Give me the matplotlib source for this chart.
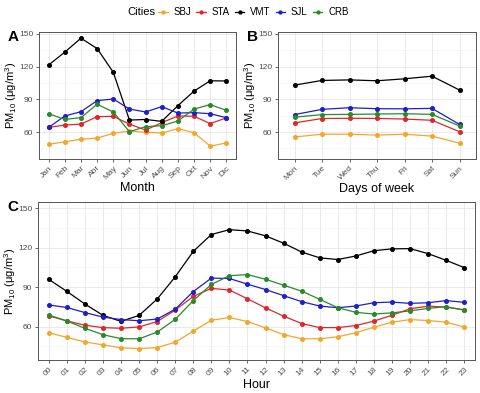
import matplotlib
matplotlib.use("Agg")
import matplotlib.pyplot as plt

plt.rcParams["font.family"] = ["Liberation Sans", "DejaVu Sans"]
plt.rcParams["mathtext.fontset"] = "custom"
plt.rcParams["mathtext.rm"] = "Liberation Sans"
plt.rcParams["mathtext.it"] = "Liberation Sans:italic"

cities = ["SBJ", "STA", "VMT", "SJL", "CRB"]
colors = {"SBJ": "#F2A72C", "STA": "#E0262B", "VMT": "#000000",
          "SJL": "#1E1ECC", "CRB": "#2A8A2A"}

# --- A: monthly means ---
months = ["Jan", "Feb", "Mar", "Abr", "May", "Jun", "Jul", "Aug", "Sep", "Oct", "Nov", "Dic"]
month_vals = {
    "SBJ": [48.7, 51.1, 53.4, 54.5, 58.8, 61.0, 59.8, 59.1, 63.1, 59.4, 47.1, 50.0],
    "STA": [64.3, 66.4, 67.3, 74.1, 74.4, 67.3, 61.8, 68.6, 74.7, 74.5, 67.7, 73.0],
    "VMT": [121.5, 133.3, 146.0, 136.5, 114.8, 71.0, 71.5, 69.8, 84.2, 97.5, 107.0, 106.8],
    "SJL": [64.3, 74.7, 78.7, 88.8, 90.3, 81.1, 78.4, 83.3, 77.4, 77.8, 76.8, 73.2],
    "CRB": [76.8, 71.6, 73.2, 85.5, 78.4, 60.3, 64.9, 65.8, 70.1, 81.0, 85.2, 79.9],
}

# --- B: day of week ---
days = ["Mon", "Tue", "Wed", "Thu", "Fri", "Sat", "Sun"]
day_vals = {
    "SBJ": [55.5, 58.0, 58.0, 57.2, 58.0, 56.3, 49.8],
    "STA": [68.4, 72.4, 72.6, 72.5, 71.9, 70.8, 60.3],
    "VMT": [103.0, 107.3, 107.8, 107.0, 108.8, 111.2, 98.5],
    "SJL": [76.0, 80.8, 82.3, 81.4, 81.3, 81.7, 67.0],
    "CRB": [73.6, 76.0, 76.2, 76.5, 76.8, 76.2, 65.6],
}

# --- C: hour of day ---
hours = [f"{h:02d}" for h in range(24)]
hour_vals = {
    "SBJ": [55.3, 51.8, 48.3, 46.1, 43.8, 43.3, 44.0, 48.1, 56.5, 64.8, 66.9, 63.8,
            59.0, 53.9, 50.7, 50.8, 52.2, 55.3, 59.5, 63.3, 65.3, 64.6, 63.3, 59.7],
    "STA": [68.1, 64.3, 61.0, 59.2, 58.7, 59.7, 63.8, 72.5, 82.9, 89.0, 87.7, 81.1,
            74.2, 67.9, 62.3, 59.2, 59.2, 60.8, 64.1, 68.6, 73.5, 75.5, 74.7, 72.7],
    "VMT": [95.8, 86.7, 77.1, 68.5, 63.9, 68.5, 80.9, 97.8, 117.1, 129.9, 133.6, 132.6,
            128.9, 123.3, 116.6, 112.2, 110.9, 113.6, 117.6, 119.0, 119.2, 115.4, 110.3, 104.8],
    "SJL": [76.4, 74.5, 70.6, 67.2, 65.3, 64.4, 65.7, 73.2, 86.6, 96.8, 96.5, 92.2,
            88.1, 83.5, 78.9, 75.6, 74.3, 75.6, 78.1, 78.6, 77.6, 78.1, 79.7, 78.4],
    "CRB": [68.8, 64.2, 58.7, 53.8, 50.8, 50.7, 55.8, 65.5, 79.7, 92.0, 98.6, 99.5,
            95.9, 91.4, 86.9, 80.7, 74.3, 70.8, 69.5, 70.4, 71.9, 73.8, 75.1, 72.5],
}

W, H = 480, 393
fig = plt.figure(figsize=(W / 100, H / 100), dpi=100)


def px(l, t, r, b):
    return [l / W, 1 - b / H, (r - l) / W, (b - t) / H]


def panel(box, labels, vals, xlabel, tag, ylim, ylab_px):
    l, t, r, b = box
    ax = fig.add_axes(px(l, t, r, b))
    x = list(range(len(labels)))
    for c in cities:
        ax.plot(x, vals[c], "-o", color=colors[c], lw=0.9, ms=2.6, label=c)
    ax.set_xlim(-0.6, len(labels) - 0.4)
    ax.set_ylim(*ylim)
    ax.set_yticks([60, 90, 120, 150])
    ax.set_yticks([45, 75, 105, 135], minor=True)
    ax.set_xticks(x)
    ax.set_xticklabels(labels, rotation=45, ha="right", rotation_mode="anchor")
    ax.tick_params(axis="both", labelsize=6, colors="#4D4D4D", length=2.5,
                   width=0.6, pad=1.5)
    ax.tick_params(axis="y", which="minor", length=0)
    ax.grid(True, which="major", color="#E6E6E6", lw=0.6)
    ax.grid(True, which="minor", axis="y", color="#F2F2F2", lw=0.4)
    ax.set_axisbelow(True)
    for s in ax.spines.values():
        s.set_color("#555555")
        s.set_linewidth(0.7)
    ax.set_xlabel(xlabel, fontsize=9, labelpad=1)
    ax.set_ylabel("PM$_{10}$ (μg/m$^{3}$)", fontsize=8)
    # right edge of the y label, in figure pixels
    ax.yaxis.set_label_coords((ylab_px - l) / (r - l), 0.5)
    fig.text((l - 31) / W, 1 - (t + 5) / H, tag, fontsize=11,
             fontweight="bold", va="center", ha="left")
    return ax


axA = panel((39, 32, 236, 159), months, month_vals, "Month", "A", (35.3, 151.7), 19)
axB = panel((278, 32, 476, 159), days, day_vals, "Days of week", "B", (35.3, 151.7), 258)
axC = panel((38, 202, 475, 360), hours, hour_vals, "Hour", "C", (34.6, 154.6), 18)

handles, labs = axA.get_legend_handles_labels()
fig.text(141 / W, 1 - 12 / H, "Cities", fontsize=8, ha="center", va="center")
fig.legend(handles, labs, loc="center left", bbox_to_anchor=(158 / W, 1 - 12 / H),
           ncol=5, frameon=False, fontsize=7, handlelength=1.0, handletextpad=0.6,
           columnspacing=0.5, borderpad=0, borderaxespad=0, markerscale=0.8)

fig.savefig("out.png", dpi=100)
